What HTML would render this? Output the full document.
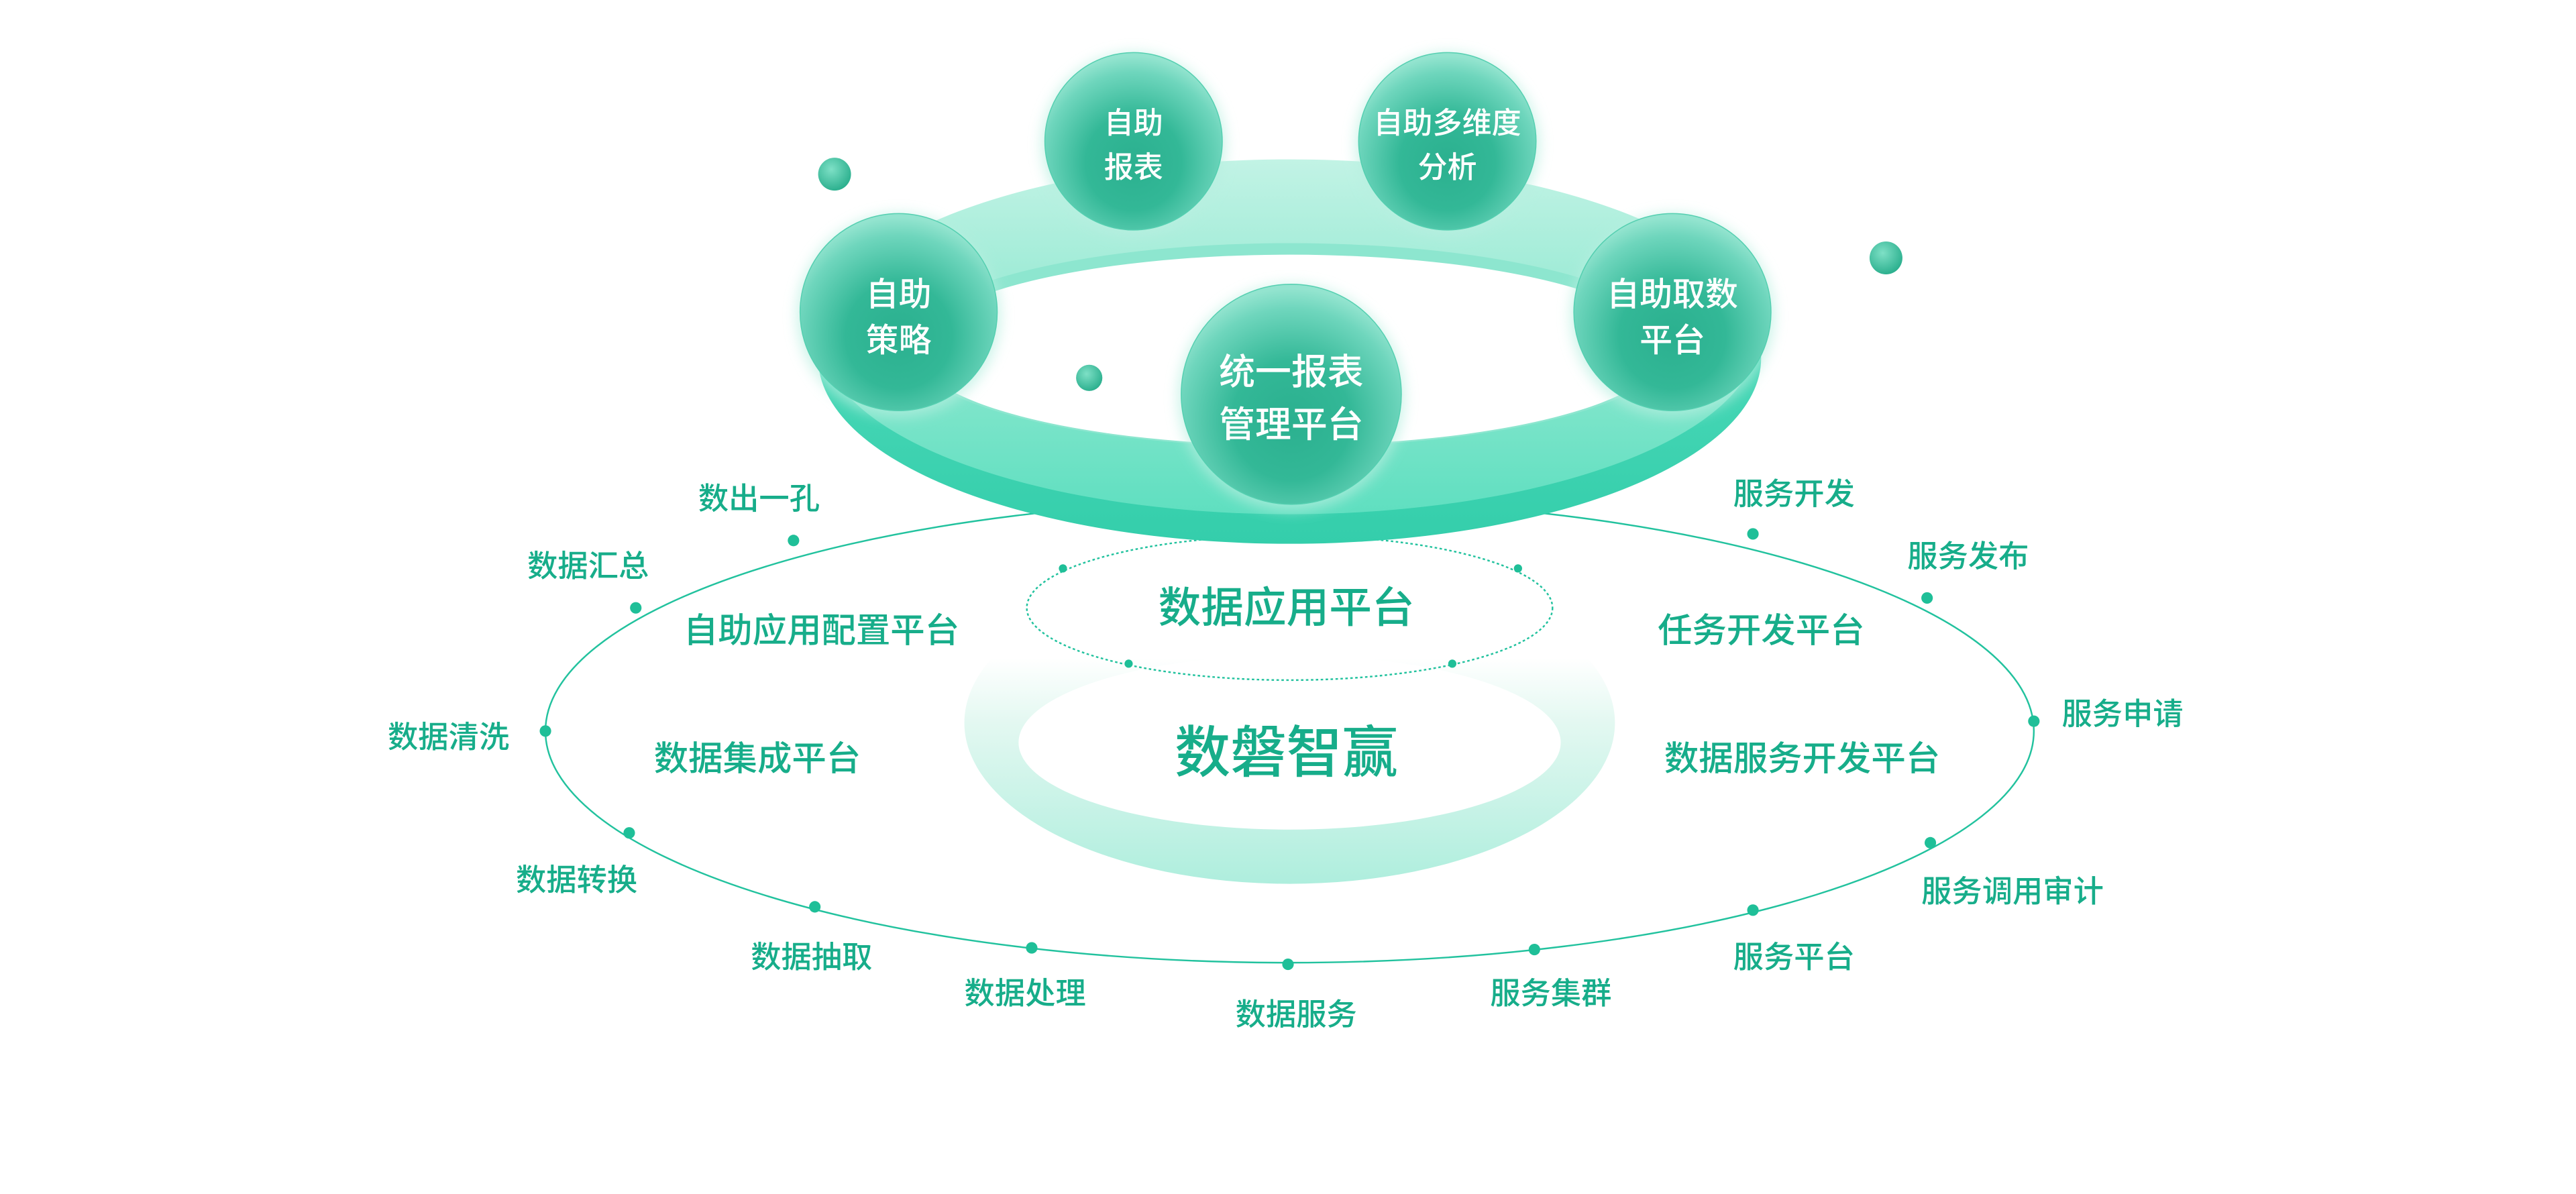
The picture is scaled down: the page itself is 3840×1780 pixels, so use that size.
<!DOCTYPE html>
<html><head><meta charset="utf-8"><style>
html,body{margin:0;padding:0;background:#fff;width:3840px;height:1780px;overflow:hidden}
svg{display:block}
text{font-family:"Liberation Sans","Noto Sans CJK SC",sans-serif;font-weight:500}
</style></head><body>
<svg width="3840" height="1780" viewBox="0 0 1568 726.8" xmlns="http://www.w3.org/2000/svg">
<defs>
<radialGradient id="sph" cx="50%" cy="62%" r="60%">
<stop offset="0" stop-color="#2bb08f"/><stop offset="0.45" stop-color="#33b897"/><stop offset="0.85" stop-color="#6fd6bd"/><stop offset="1" stop-color="#93e4cf"/>
</radialGradient>
<radialGradient id="ball" cx="40%" cy="35%" r="70%">
<stop offset="0" stop-color="#7ee0c6"/><stop offset="1" stop-color="#27ad8b"/>
</radialGradient>
<linearGradient id="ringTop" x1="0" y1="0" x2="0" y2="1">
<stop offset="0" stop-color="#c2f3e5"/><stop offset="0.5" stop-color="#8fe8d0"/><stop offset="1" stop-color="#5fdfc0"/>
</linearGradient>
<linearGradient id="ringSide" x1="0" y1="0" x2="0" y2="1">
<stop offset="0" stop-color="#5ce0c1"/><stop offset="1" stop-color="#34ceab"/>
</linearGradient>
<linearGradient id="low" x1="0" y1="0" x2="0" y2="1">
<stop offset="0" stop-color="#ffffff"/><stop offset="0.3" stop-color="#ffffff"/><stop offset="0.5" stop-color="#e3f8f1"/><stop offset="1" stop-color="#aeeedd"/>
</linearGradient>
<filter id="glow" x="-30%" y="-30%" width="160%" height="160%"><feGaussianBlur stdDeviation="4"/></filter>
</defs>

<!-- big ellipse -->
<ellipse cx="785" cy="445" rx="453" ry="141" fill="none" stroke="#22c29e" stroke-width="1"/>
<g fill="#1fbf98">
<circle cx="483" cy="329" r="3.5"/><circle cx="387" cy="370" r="3.5"/><circle cx="332" cy="445" r="3.5"/>
<circle cx="383" cy="507" r="3.5"/><circle cx="496" cy="552" r="3.5"/><circle cx="628" cy="577" r="3.5"/>
<circle cx="784" cy="587" r="3.5"/><circle cx="934" cy="578" r="3.5"/><circle cx="1067" cy="554" r="3.5"/>
<circle cx="1175" cy="513" r="3.5"/><circle cx="1238" cy="439" r="3.5"/><circle cx="1173" cy="364" r="3.5"/>
<circle cx="1067" cy="325" r="3.5"/>
</g>

<!-- lower faint ring -->
<ellipse cx="785" cy="440" rx="198" ry="98" fill="url(#low)"/>
<ellipse cx="785" cy="452" rx="165" ry="53" fill="#fff"/>

<!-- small dotted ellipse -->
<ellipse cx="785" cy="370" rx="160" ry="44" fill="none" stroke="#22c29e" stroke-width="1" stroke-dasharray="1.5 1.5"/>
<g fill="#1fbf98"><circle cx="647" cy="346" r="2.5"/><circle cx="924" cy="346" r="2.5"/><circle cx="687" cy="404" r="2.5"/><circle cx="884" cy="404" r="2.5"/></g>

<!-- top ring -->
<ellipse cx="785" cy="218" rx="287" ry="113" fill="url(#ringSide)"/>
<ellipse cx="785" cy="205" rx="285" ry="108" fill="url(#ringTop)"/>
<ellipse cx="785" cy="210" rx="235" ry="62" fill="#8de6cf"/>
<ellipse cx="785" cy="213" rx="228" ry="58" fill="#fff"/>

<!-- small balls -->
<circle cx="508" cy="106" r="10" fill="url(#ball)"/>
<circle cx="1148" cy="157" r="10" fill="url(#ball)"/>
<circle cx="663" cy="230" r="8" fill="url(#ball)"/>

<!-- spheres -->
<g>
<circle cx="690" cy="88" r="56" fill="#b8efe0" filter="url(#glow)" opacity="0.7"/>
<circle cx="690" cy="86" r="54" fill="url(#sph)" stroke="#54cfb0" stroke-width="0.6"/>
<circle cx="881" cy="88" r="56" fill="#b8efe0" filter="url(#glow)" opacity="0.7"/>
<circle cx="881" cy="86" r="54" fill="url(#sph)" stroke="#54cfb0" stroke-width="0.6"/>
<circle cx="547" cy="192" r="62" fill="#b8efe0" filter="url(#glow)" opacity="0.7"/>
<circle cx="547" cy="190" r="60" fill="url(#sph)" stroke="#54cfb0" stroke-width="0.6"/>
<circle cx="1018" cy="192" r="62" fill="#b8efe0" filter="url(#glow)" opacity="0.7"/>
<circle cx="1018" cy="190" r="60" fill="url(#sph)" stroke="#54cfb0" stroke-width="0.6"/>
<circle cx="786" cy="242" r="69" fill="#b8efe0" filter="url(#glow)" opacity="0.7"/>
<circle cx="786" cy="240" r="67" fill="url(#sph)" stroke="#54cfb0" stroke-width="0.6"/>
</g>
<g fill="#fff" text-anchor="middle" font-size="18">
<text x="690" y="81">自助</text><text x="690" y="108">报表</text>
<text x="881" y="81">自助多维度</text><text x="881" y="108">分析</text>
<text x="547" y="186" font-size="20">自助</text><text x="547" y="214" font-size="20">策略</text>
<text x="1018" y="186" font-size="20">自助取数</text><text x="1018" y="214" font-size="20">平台</text>
<text x="786" y="234" font-size="22">统一报表</text><text x="786" y="266" font-size="22">管理平台</text>
</g>

<!-- labels -->
<g fill="#17ad8a" text-anchor="middle" font-size="18.5">
<text x="462" y="310">数出一孔</text>
<text x="358" y="351">数据汇总</text>
<text x="273" y="455">数据清洗</text>
<text x="351" y="542">数据转换</text>
<text x="494" y="589">数据抽取</text>
<text x="624" y="611">数据处理</text>
<text x="789" y="624">数据服务</text>
<text x="944" y="611">服务集群</text>
<text x="1092" y="589">服务平台</text>
<text x="1225" y="549">服务调用审计</text>
<text x="1292" y="441">服务申请</text>
<text x="1198" y="345">服务发布</text>
<text x="1092" y="307">服务开发</text>
</g>
<g fill="#17ad8a" text-anchor="middle" font-size="21">
<text x="500" y="391">自助应用配置平台</text>
<text x="461" y="469">数据集成平台</text>
<text x="1072" y="391">任务开发平台</text>
<text x="1097" y="469">数据服务开发平台</text>
</g>
<text x="783" y="379" fill="#17ad8a" text-anchor="middle" font-size="26">数据应用平台</text>
<text x="783" y="470" fill="#17ad8a" text-anchor="middle" font-size="34">数磐智赢</text>
</svg>
</body></html>
